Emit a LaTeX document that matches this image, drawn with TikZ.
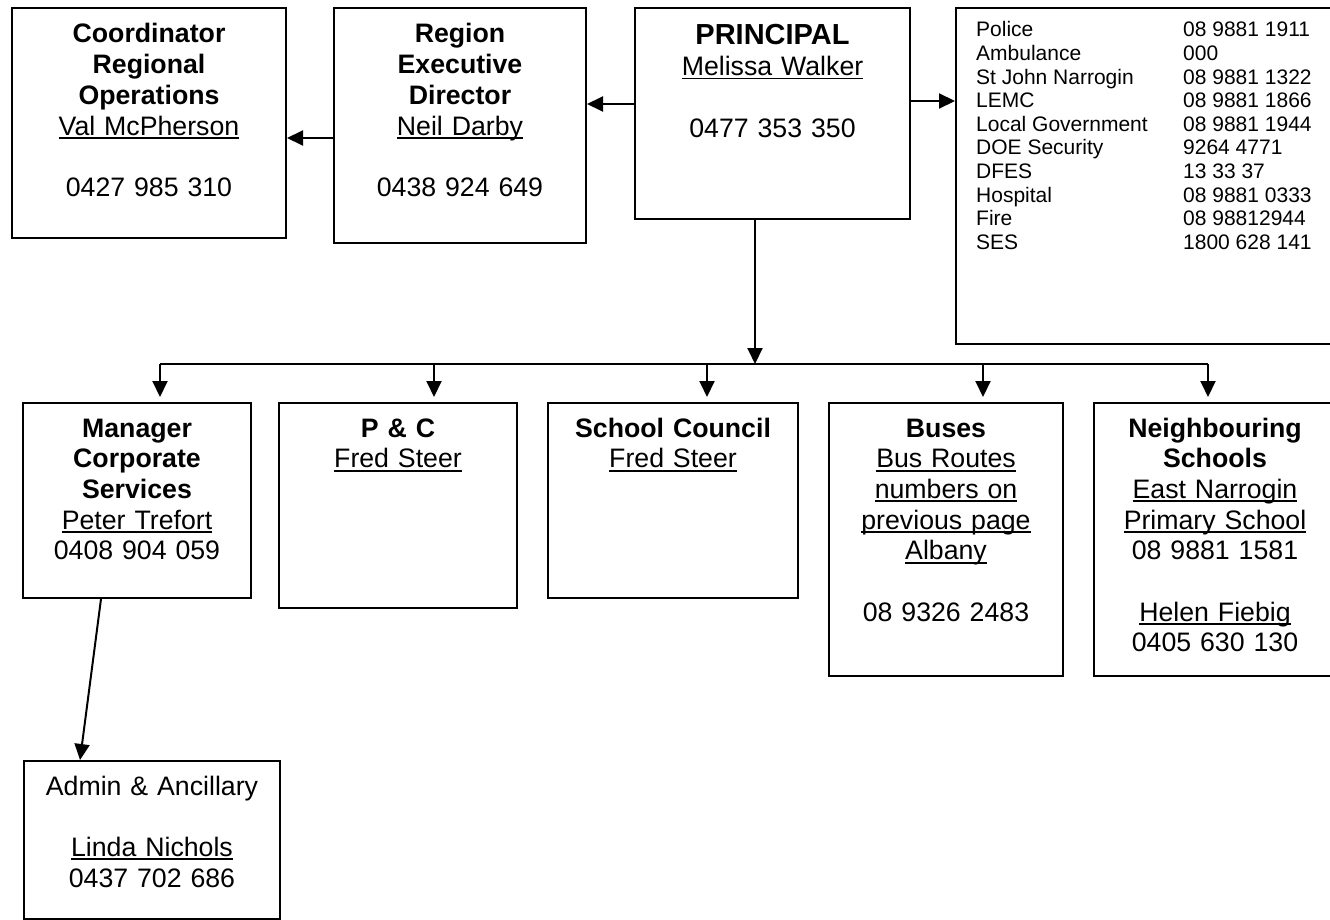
\documentclass[tikz,border=0pt]{standalone}
\usepackage{fontspec}
\setmainfont{Liberation Sans}
\usetikzlibrary{arrows.meta}
\newcommand\ulx[1]{\leavevmode\setbox0\hbox{#1}\rlap{\rule[-3.8pt]{\wd0}{1.9pt}}\box0}
\begin{document}
\begin{tikzpicture}[x=1pt,y=-1pt,
  box/.style={draw, line width=2pt, rectangle, anchor=north west, inner sep=0pt},
  txt/.style={anchor=base, text width=#1, align=center, inner sep=0pt, font=\fontsize{26.7}{30.7}\selectfont},
  arr/.style={line width=2pt, -{Triangle[length=16pt,width=15pt]}},
  bus/.style={line width=1.6pt}]
\useasboundingbox (0,0) rectangle (1330,920);
\clip (0,0) rectangle (1330,920);
% top row
\node[box, minimum width=274pt, minimum height=230pt] (coord) at (11,7) {};
\node[txt=264pt] at ([yshift=-36pt]coord.north) {\textbf{Coordinator}\\\textbf{Regional}\\\textbf{Operations}\\\ulx{Val McPherson}\\[30.7pt]0427 985 310};
\node[box, minimum width=252pt, minimum height=235pt] (region) at (333,7) {};
\node[txt=242pt] at ([yshift=-36pt]region.north) {\textbf{Region}\\\textbf{Executive}\\\textbf{Director}\\\ulx{Neil Darby}\\[30.7pt]0438 924 649};
\node[box, minimum width=275pt, minimum height=211pt] (principal) at (634,7) {};
\node[txt=265pt] at ([yshift=-38pt]principal.north) {{\fontsize{29}{33}\selectfont\bfseries PRINCIPAL}\\\ulx{Melissa Walker}\\[30.7pt]0477 353 350};
\node[box, minimum width=390pt, minimum height=336pt] (info) at (955,7) {};
\node[anchor=base west, inner sep=0pt, font=\fontsize{21}{23.6}\selectfont] at (976,37) {%
\begin{tabular}[t]{@{}p{207pt}@{}l@{}}
Police & 08 9881 1911\\
Ambulance & 000\\
St John Narrogin & 08 9881 1322\\
LEMC & 08 9881 1866\\
Local Government & 08 9881 1944\\
DOE Security & 9264 4771\\
DFES & 13 33 37\\
Hospital & 08 9881 0333\\
Fire & 08 98812944\\
SES & 1800 628 141
\end{tabular}};
% bottom row
\node[box, minimum width=228pt, minimum height=195pt] (mgr) at (22,402) {};
\node[txt=220pt] at ([yshift=-35pt]mgr.north) {\textbf{Manager}\\\textbf{Corporate}\\\textbf{Services}\\\ulx{Peter Trefort}\\0408 904 059};
\node[box, minimum width=238pt, minimum height=205pt] (pc) at (278,402) {};
\node[txt=228pt] at ([yshift=-35pt]pc.north) {\textbf{P \& C}\\\ulx{Fred Steer}};
\node[box, minimum width=250pt, minimum height=195pt] (council) at (547,402) {};
\node[txt=240pt] at ([yshift=-35pt]council.north) {\textbf{School Council}\\\ulx{Fred Steer}};
\node[box, minimum width=234pt, minimum height=273pt] (buses) at (828,402) {};
\node[txt=226pt] at ([yshift=-35pt]buses.north) {\textbf{Buses}\\\ulx{Bus Routes}\\\ulx{numbers on}\\\ulx{previous page}\\\ulx{Albany}\\[30.7pt]08 9326 2483};
\node[box, minimum width=242pt, minimum height=273pt] (neigh) at (1093,402) {};
\node[txt=234pt] at ([yshift=-35pt]neigh.north) {\textbf{Neighbouring}\\\textbf{Schools}\\\ulx{East Narrogin}\\\ulx{Primary School}\\08 9881 1581\\[30.7pt]\ulx{Helen Fiebig}\\0405 630 130};
\node[box, minimum width=256pt, minimum height=158pt] (admin) at (23,760) {};
\node[txt=248pt] at ([yshift=-35pt]admin.north) {Admin \& Ancillary\\[30.7pt]\ulx{Linda Nichols}\\0437 702 686};
% connectors
\draw[arr] ([yshift=9.5pt]principal.west) -- ([yshift=9.5pt]principal.west -| region.east);
\draw[arr] ([yshift=12.5pt]principal.east) -- ([yshift=12.5pt]principal.east -| info.west);
\draw[arr] ([yshift=-12.5pt]region.west) -- ([yshift=-12.5pt]region.west -| coord.east);
\coordinate (bj) at (755,364);
\coordinate (d1) at (160,364);
\coordinate (d2) at (434,364);
\coordinate (d3) at (707,364);
\coordinate (d4) at (983,364);
\coordinate (d5) at (1208,364);
\draw[bus] (d1) -- (d5);
\draw[arr] (principal.south -| bj) -- (bj);
\draw[arr, shorten >=5pt] (d1) -- (d1 |- mgr.north);
\draw[arr, shorten >=5pt] (d2) -- (d2 |- pc.north);
\draw[arr, shorten >=5pt] (d3) -- (d3 |- council.north);
\draw[arr, shorten >=5pt] (d4) -- (d4 |- buses.north);
\draw[arr, shorten >=5pt] (d5) -- (d5 |- neigh.north);
\draw[arr] ([xshift=-36pt]mgr.south) -- ([xshift=-72pt]admin.north);
\end{tikzpicture}
\end{document}
